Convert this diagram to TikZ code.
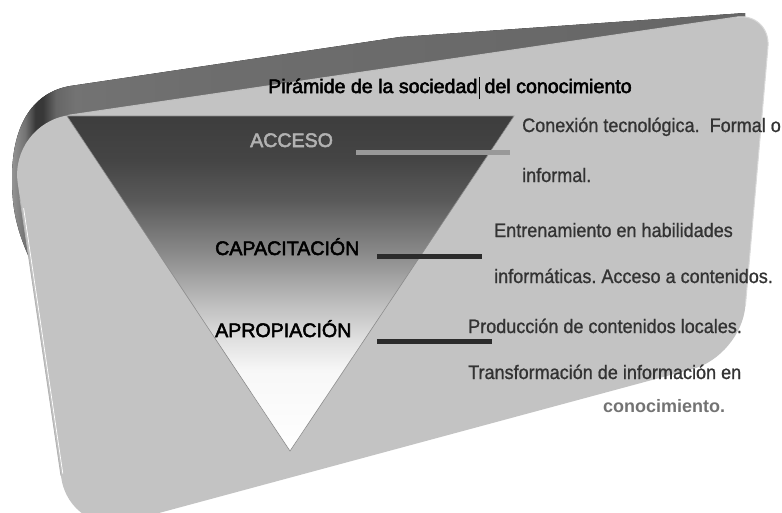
\documentclass[tikz,border=0pt]{standalone}
\usepackage{fontspec}
\setmainfont{Liberation Sans}
\newfontfamily\heavyfont[FakeBold=2.6]{Liberation Sans}
\newfontfamily\descfont[FakeBold=1.0]{Liberation Sans}
\usetikzlibrary{calc}
\pgfdeclareverticalshading{trishade}{100bp}{color(0bp)=(white); color(25bp)=(white); color(37bp)=(black!3); color(41.6bp)=(black!12); color(47.5bp)=(black!27); color(55bp)=(black!47); color(62.5bp)=(black!65); color(68.4bp)=(black!73); color(75bp)=(black!76); color(100bp)=(black!76)}
\pgfdeclarehorizontalshading{bandshade}{100bp}{color(0bp)=(black!42); color(25bp)=(black!42); color(25.9bp)=(black!55); color(26.6bp)=(black!78); color(27.1bp)=(black!78); color(28.0bp)=(black!60); color(29.3bp)=(black!55); color(37.8bp)=(black!57); color(75bp)=(black!60); color(100bp)=(black!60)}
\definecolor{facegray}{RGB}{195,195,195}
\newcommand{\dtext}[1]{\scalebox{0.925}[1]{#1}}
\begin{document}
\frenchspacing
\begin{tikzpicture}[x=1pt,y=-1pt,
  lbl/.style={inner sep=0pt, anchor=base west, font=\heavyfont\fontsize{19.6}{23}\selectfont},
  desc/.style={inner sep=0pt, anchor=base west, text=black!80, font=\descfont\fontsize{19.5}{22}\selectfont},
  bar/.style={line width=5pt}]
\useasboundingbox (0,0) rectangle (782,512);
\clip (0,0) rectangle (782,512);
% board corners
\coordinate (TL) at (9,124);
\coordinate (TR) at (771,12);
\coordinate (BR) at (741,356);
\coordinate (BL) at (70,537);
% 3D band
\fill[shading=bandshade] (28,255) .. controls (15,225) and (12,205) .. (12,178)
  .. controls (12,122) and (35,92) .. (70,86) -- (400,37) -- (745,13) -- (745,40) -- (300,300) -- cycle;
% face
\fill[facegray] ($(TL)!60pt!(TR)$) -- ($(TR)!35pt!(TL)$)
  .. controls ($(TR)!16pt!(TL)$) and ($(TR)!16pt!(BR)$) .. ($(TR)!35pt!(BR)$)
  -- ($(BR)!50pt!(TR)$)
  .. controls ($(BR)!22pt!(TR)$) and ($(BR)!22pt!(BL)$) .. ($(BR)!50pt!(BL)$)
  -- ($(BL)!60pt!(BR)$)
  .. controls ($(BL)!27pt!(BR)$) and ($(BL)!27pt!(TL)$) .. ($(BL)!60pt!(TL)$)
  -- ($(TL)!60pt!(BL)$)
  .. controls ($(TL)!27pt!(BL)$) and ($(TL)!27pt!(TR)$) .. ($(TL)!60pt!(TR)$) -- cycle;
% rims
\draw[white!85!black, line width=1pt] ($(TR)!35pt!(TL)$)
  .. controls ($(TR)!16pt!(TL)$) and ($(TR)!16pt!(BR)$) .. ($(TR)!35pt!(BR)$)
  -- ($(BR)!50pt!(TR)$);
\draw[white!70!black, line width=0.8pt] ($(TL)!75pt!(BL)$) -- ($(BL)!62pt!(TL)$);
\draw[white, line width=0.7pt] ($(TL)!85pt!(BL)+(2.2,0)$) -- ($(BL)!64pt!(TL)+(2.2,0)$);
\draw[white!75!black, line width=1pt] ($(TL)!60pt!(TR)$) -- ($(TR)!35pt!(TL)$);
% triangle
\coordinate (P1) at (67,116);
\coordinate (P2) at (514,116);
\coordinate (P3) at (290,451);
\draw[shading=trishade, draw=black!45, line width=0.6pt] (P1) -- (P2) -- (P3) -- cycle;
% title
\node[inner sep=0pt, anchor=base west, font=\heavyfont\fontsize{19.6}{24}\selectfont] (title) at (268,93)
  {Pirámide de la sociedad\hspace{2pt}\rule[-6pt]{0.8pt}{22pt}\hspace{-1pt} del conocimiento};
% level labels
\node[lbl, text=black!30] (acceso) at (250,147) {ACCESO};
\node[lbl] (capac) at (215,255) {CAPACITACIÓN};
\node[lbl] (aprop) at (215,337) {APROPIACIÓN};
% bars
\coordinate (a1) at (356,152.5); \coordinate (a2) at (510,152.5);
\coordinate (c1) at (377,256);   \coordinate (c2) at (482,256);
\coordinate (p1) at (377,341);   \coordinate (p2) at (492,341);
\draw[bar, black!40] (a1) -- (a2);
\draw[bar, black!83] (c1) -- (c2);
\draw[bar, black!83] (p1) -- (p2);
% descriptions
\node[desc] (d1) at (522,132) {\dtext{Conexión tecnológica.~ Formal o}};
\node[desc] (d2) at (522,182) {\dtext{informal.}};
\node[desc] (d3) at (494,237) {\dtext{Entrenamiento en habilidades}};
\node[desc] (d4) at (494,283) {\dtext{informáticas. Acceso a contenidos.}};
\node[desc] (d5) at (468,333) {\dtext{Producción de contenidos locales.}};
\node[desc] (d6) at (468,379) {\dtext{Transformación de información en}};
\node[desc, text=black!55, font=\fontsize{18}{22}\selectfont\bfseries] (d7) at (603,412) {conocimiento.};
\end{tikzpicture}
\end{document}
